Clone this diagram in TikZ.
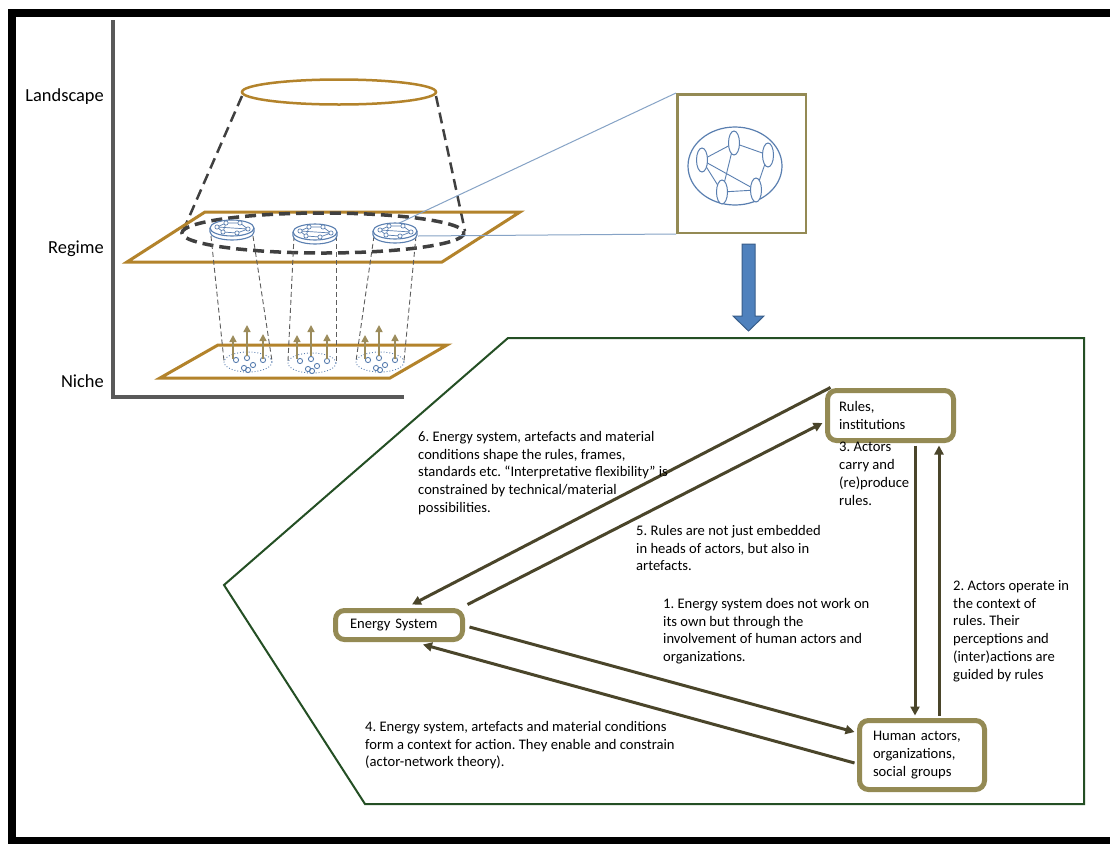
\documentclass[tikz,border=0pt]{standalone}
\usepackage{fontspec}
\setmainfont{Carlito}
\usetikzlibrary{arrows.meta,calc}
\frenchspacing

\definecolor{olivebox}{HTML}{948A54}
\definecolor{arrowdark}{HTML}{4A452A}
\definecolor{planegold}{HTML}{B3832B}
\definecolor{pentagreen}{HTML}{244F24}
\definecolor{netline}{HTML}{5A7FB0}
\definecolor{zoomline}{HTML}{86A3C6}
\definecolor{axisgray}{HTML}{595959}
\definecolor{dashgray}{HTML}{404040}
\definecolor{nichearrow}{HTML}{9C8C5C}
\definecolor{blockfill}{HTML}{4F81BD}
\definecolor{blockedge}{HTML}{385D8A}

\tikzset{
  box/.style={draw=olivebox, line width=5pt, rounded corners=9pt, fill=white, align=left},
  note/.style={anchor=north west, align=left, inner sep=0pt},
  level/.style={anchor=east, inner sep=0pt, font=\fontsize{18.4}{22}\selectfont},
  conn/.style={draw=arrowdark, line width=3pt, -{Triangle[length=9pt,width=9pt]}},
  plane/.style={draw=planegold, line width=3pt, line join=miter},
  bigdash/.style={draw=dashgray, line width=3pt, dash pattern=on 11pt off 6pt},
  thindash/.style={draw=dashgray!85, line width=0.9pt, dash pattern=on 5pt off 3pt},
  rise/.style={draw=nichearrow, line width=1.6pt, -{Triangle[length=7pt,width=7pt]}},
  % a network of actors sitting on the regime plane
  regimecell/.pic={
    \draw[netline, line width=1.1pt, fill=white] (-22,0) -- (-22,4)
      arc[start angle=180, end angle=0, x radius=22, y radius=8] -- (22,0);
    \draw[netline, line width=1.1pt, fill=white] (0,0) ellipse[x radius=22, y radius=8];
    \draw[netline, line width=0.7pt] (-15,-1) -- (-6,-5) -- (8,-5) -- (16,1) -- (5,5) -- (-9,4) -- cycle
      (-15,-1) -- (16,1) (-6,-5) -- (-9,4);
    \foreach \p in {(-15,-1),(-6,-5),(8,-5),(16,1),(-9,4),(5,5)}
      \draw[netline, line width=0.7pt, fill=white] \p circle[radius=2.1];
  },
  % a loose niche of actors
  nichecell/.pic={
    \draw[netline, line width=0.9pt, dotted] (0,0) ellipse[x radius=24, y radius=10];
    \foreach \p in {(-12,-2),(-1,-4),(15,-2),(-4,6),(5,3),(0,8)}
      \draw[netline, line width=0.9pt] \p circle[radius=2.6];
  }
}

\begin{document}
\begin{tikzpicture}[x=1pt, y=-1pt, font=\fontsize{14.6}{17.8}\selectfont]
\useasboundingbox (0,0) rectangle (1110,844);
\fill[white] (0,0) rectangle (1110,844);

% outer frame
\fill[black] (8,9) rectangle (1110,844);
\fill[white] (16,17) rectangle (1110,837);

% level axis
\draw[axisgray, line width=4pt] (113,20) -- (113,397) -- (404,397);
\node[level] (lland) at (104,97) {Landscape};
\node[level] (lreg) at (104,249) {Regime};
\node[level] (lniche) at (104,381) {Niche};

% landscape
\draw[planegold, line width=2.5pt] (339,92) ellipse[x radius=97, y radius=12.5];
\draw[bigdash, line width=2.5pt] (242,96) -- (183,231);
\draw[bigdash, line width=2.5pt] (436,96) -- (465,231);

% regime plane
\draw[plane] (205,212) -- (520,212) -- (442,262) -- (127,262) -- cycle;
\draw[bigdash, line width=3.5pt] (323,233) ellipse[x radius=141, y radius=20];

% niche plane
\draw[plane] (218,345) -- (447,345) -- (390,378) -- (160,378) -- cycle;

% links between regime networks and niches
\foreach \rx/\nx in {232/248, 315/312, 395/380}{
  \draw[thindash] (\rx-21,236) -- (\nx-24,361);
  \draw[thindash] (\rx+21,236) -- (\nx+24,361);
}

% niches with rising arrows
\foreach \nx/\ny in {248/362, 312/363, 380/362}{
  \pic at (\nx,\ny) {nichecell};
  \draw[rise] (\nx-15,359) -- (\nx-15,335);
  \draw[rise] (\nx-1,356) -- (\nx-1,325);
  \draw[rise] (\nx+15,359) -- (\nx+15,334);
}

% zoom box with actor network
\node[draw=olivebox, line width=2.5pt, minimum width=128.5pt, minimum height=138.5pt, inner sep=0pt]
  (zoombox) at (741.5,163.5) {};
\coordinate (cellthree) at (393,226);
\coordinate (cellthreeside) at (418,236);
\draw[zoomline, line width=1pt] (cellthree) -- (zoombox.north west);
\draw[zoomline, line width=1pt] (cellthreeside) -- (zoombox.south west);

\pic at (232,228) {regimecell};
\pic at (315,232) {regimecell};
\pic at (395,231) {regimecell};

\draw[netline, line width=1.2pt] (735,166) ellipse[x radius=47, y radius=39];
\draw[netline, line width=0.9pt] (702,160) -- (734,143) -- (768,155) -- (756,190) -- (722,192) -- (702,160) -- (756,190)
  (734,143) -- (722,192);
\foreach \p in {(702,160),(734,143),(768,155),(722,192),(756,190)}
  \draw[netline, line width=1pt, fill=white] \p ellipse[x radius=5.5, y radius=12];

% block arrow down
\draw[blockedge, fill=blockfill, line width=1pt]
  (742,244) -- (755,244) -- (755,316) -- (764,316) -- (748.5,331) -- (733,316) -- (742,316) -- cycle;

% pentagon frame
\draw[pentagreen, line width=2pt, line join=miter] (508,338) -- (1084,338) -- (1084,804) -- (365,804) -- (224,585) -- cycle;

% main boxes
\node[box, text width=103pt, inner xsep=11.5pt, minimum height=50pt] (rules) at (890.5,415.5) {Rules,\\institutions};
\node[box, text width=98pt, inner xsep=14.5pt, minimum height=29pt] (energy) at (399,625) {Energy System};
\node[box, text width=98pt, inner xsep=13.5pt, minimum height=69pt] (human) at (922,755) {Human actors,\\organizations,\\social groups};

% connectors
\draw[conn] ($(energy.east)+(4.5,2)$) -- ($(human.west)+(-2.5,-23)$);
\draw[conn] ($(human.west)+(-2.5,8)$) -- ($(energy.south)+(24,2.5)$);
\draw[conn] ($(rules.north west)+(5.5,-0.5)$) -- ($(energy.north)+(13,-3.5)$);
\draw[conn] ($(energy.north east)+(2.5,-3.5)$) -- ($(rules.west)+(-2.5,7.5)$);
\draw[conn] ($(rules.south)+(24.5,2.5)$) -- ($(human.north)+(-7,-2.5)$);
\draw[conn] ($(human.north)+(17,-2.5)$) -- ($(rules.south)+(48.5,2.5)$);

% annotations
\node[note] (n6) at (418,431) {6. Energy system, artefacts and material\\conditions shape the rules, frames,\\standards etc. “Interpretative flexibility” is\\constrained by technical/material\\possibilities.};
\node[note] (n5) at (636,525) {5. Rules are not just embedded\\in heads of actors, but also in\\artefacts.};
\node[note] (n3) at (839,442) {3. Actors\\carry and\\(re)produce\\rules.};
\node[note] (n1) at (663,598) {1. Energy system does not work on\\its own but through the\\involvement of human actors and\\organizations.};
\node[note] (n2) at (953,580) {2. Actors operate in\\the context of\\rules. Their\\perceptions and\\(inter)actions are\\guided by rules};
\node[note] (n4) at (365,721) {4. Energy system, artefacts and material conditions\\form a context for action. They enable and constrain\\(actor-network theory).};
\end{tikzpicture}
\end{document}
